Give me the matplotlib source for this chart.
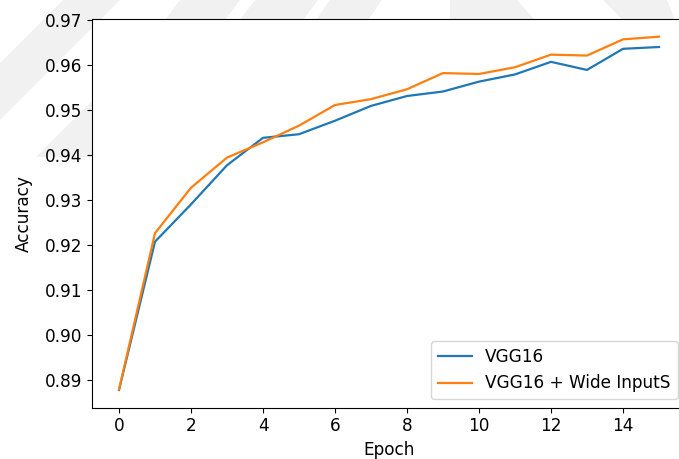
import matplotlib
matplotlib.use("Agg")
import matplotlib.pyplot as plt
from matplotlib.patches import Polygon

epochs = list(range(16))
vgg16 = [0.8877, 0.9207, 0.9290, 0.9377, 0.9438, 0.9446, 0.9476, 0.9509, 0.9531,
         0.9541, 0.9563, 0.9579, 0.9607, 0.9589, 0.9636, 0.9640]
vgg16_wide = [0.8878, 0.9226, 0.9327, 0.9394, 0.9428, 0.9465, 0.9511, 0.9524, 0.9546,
              0.9582, 0.9580, 0.9595, 0.9623, 0.9621, 0.9657, 0.9663]

plt.rcParams['font.family'] = ['DejaVu Sans']
plt.rcParams['font.size'] = 12.2

W, H = 679, 459
fig = plt.figure(figsize=(W / 100, H / 100), dpi=100)

# faint diagonal page watermark behind the plot (pixel coords, origin top-left)
stripes = [
    [(63, 0), (120, 0), (0, 120), (0, 63)],
    [(92, 101), (92, 157), (36, 157)],
    [(180, 0), (240, 0), (225, 20), (165, 20)],
    [(255, 0), (318, 0), (303, 20), (240, 20)],
    [(330, 0), (382, 0), (368, 20), (316, 20)],
    [(450, 0), (517, 0), (535, 20), (450, 20)],
    [(603, 0), (667, 0), (675, 20), (623, 20)],
]
for pts in stripes:
    fig.patches.append(Polygon([(x / W, 1 - y / H) for x, y in pts], closed=True,
                               transform=fig.transFigure, facecolor='#f1f1f1',
                               edgecolor='none', zorder=-5))

ax = fig.add_axes([0.1355, 0.1118, 0.8748, 0.8468], zorder=1)

ax.plot(epochs, vgg16, color='#1f77b4', lw=1.6, label='VGG16')
ax.plot(epochs, vgg16_wide, color='#ff7f0e', lw=1.6, label='VGG16 + Wide InputS')

ax.set_xticks(range(0, 16, 2))
ax.set_yticks([0.89, 0.90, 0.91, 0.92, 0.93, 0.94, 0.95, 0.96, 0.97])
ax.set_yticklabels(['0.89', '0.90', '0.91', '0.92', '0.93', '0.94', '0.95', '0.96', '0.97'])
ax.set_xlabel('Epoch', labelpad=4)
ax.set_ylabel('Accuracy', labelpad=8.5)
ax.legend(loc='lower right')

fig.savefig('out.png', dpi=100)
